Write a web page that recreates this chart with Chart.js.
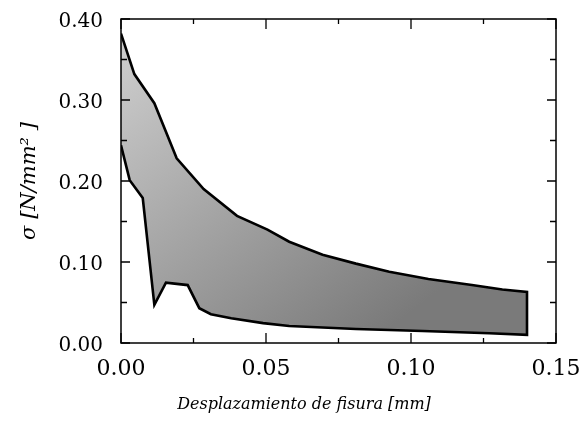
<!DOCTYPE html>
<html>
<head>
<meta charset="utf-8">
<script src="https://cdn.jsdelivr.net/npm/chart.js@4"></script>
<style>
  html, body { margin: 0; padding: 0; background: #fff; }
  canvas { display: block; }
</style>
</head>
<body>
<canvas id="c" width="581" height="421"></canvas>
<script>
// Upper boundary of the band (x in mm, sigma in N/mm^2)
const upperX = [0, 0.0046, 0.0115, 0.0192, 0.0285, 0.040, 0.0505, 0.058, 0.0695, 0.081, 0.0925, 0.106, 0.121, 0.1315, 0.140];
const upperY = [0.382, 0.332, 0.296, 0.228, 0.190, 0.157, 0.140, 0.125, 0.109, 0.098, 0.088, 0.079, 0.0715, 0.066, 0.063];
// Lower boundary of the band
const lowerX = [0, 0.003, 0.0075, 0.0115, 0.0155, 0.023, 0.027, 0.031, 0.038, 0.049, 0.058, 0.081, 0.104, 0.127, 0.140];
const lowerY = [0.244, 0.201, 0.179, 0.047, 0.0745, 0.0715, 0.043, 0.0355, 0.0305, 0.0245, 0.021, 0.0173, 0.0148, 0.012, 0.010];
// Axis ticks
const xTicks = [0, 0.05, 0.10, 0.15];
const yTicks = [0, 0.10, 0.20, 0.30, 0.40];
const xMinorStep = 0.025;
const yMinorStep = 0.05;
const xTitle = 'Desplazamiento de fisura [mm]';
const yTitle = 'σ [N/mm² ]';

// closed outline: upper left->right, then lower right->left
const band = [];
upperX.forEach((x, i) => band.push({ x, y: upperY[i] }));
for (let i = lowerX.length - 1; i >= 0; i--) band.push({ x: lowerX[i], y: lowerY[i] });

const frameTicks = {
  id: 'frameTicks',
  afterDraw(chart) {
    const { ctx, chartArea: a, scales: { x, y } } = chart;
    ctx.save();
    ctx.strokeStyle = '#000';
    ctx.lineWidth = 1.5;
    ctx.strokeRect(a.left, a.top, a.right - a.left, a.bottom - a.top);
    ctx.lineWidth = 1.3;
    ctx.beginPath();
    const xMax = xTicks[xTicks.length - 1];
    for (let v = 0, i = 0; v <= xMax + 1e-9; i++, v = i * xMinorStep) {
      const px = x.getPixelForValue(v);
      const len = (i % 2 === 0) ? 10 : 5;
      ctx.moveTo(px, a.bottom); ctx.lineTo(px, a.bottom - len);
      ctx.moveTo(px, a.top); ctx.lineTo(px, a.top + len);
    }
    const yMax = yTicks[yTicks.length - 1];
    for (let v = 0, i = 0; v <= yMax + 1e-9; i++, v = i * yMinorStep) {
      const py = y.getPixelForValue(v);
      const len = (i % 2 === 0) ? 9 : 6;
      ctx.moveTo(a.left, py); ctx.lineTo(a.left + len, py);
      ctx.moveTo(a.right, py); ctx.lineTo(a.right - len, py);
    }
    ctx.stroke();
    // x axis title
    ctx.fillStyle = '#000';
    ctx.font = 'italic 16px "DejaVu Serif"';
    ctx.textAlign = 'center';
    ctx.textBaseline = 'middle';
    ctx.fillText(xTitle, a.left + 183, a.bottom + 62);
    ctx.restore();
  }
};

new Chart(document.getElementById('c'), {
  type: 'line',
  data: {
    datasets: [{
      data: band,
      fill: 'shape',
      borderColor: '#000',
      borderWidth: 2.6,
      tension: 0,
      pointRadius: 0,
      backgroundColor: (c) => {
        const ca = c.chart.chartArea;
        if (!ca) return '#aaaaaa';
        const g = c.chart.ctx.createLinearGradient(ca.left, ca.top, ca.left + 250, ca.bottom);
        g.addColorStop(0, '#d2d2d2');
        g.addColorStop(1, '#7a7a7a');
        return g;
      }
    }]
  },
  options: {
    responsive: false,
    animation: false,
    devicePixelRatio: 1,
    layout: { padding: { top: 19, right: 25, bottom: 0, left: 0 } },
    plugins: { legend: { display: false }, tooltip: { enabled: false } },
    scales: {
      x: {
        type: 'linear',
        min: xTicks[0],
        max: xTicks[xTicks.length - 1],
        afterBuildTicks: (s) => { s.ticks = xTicks.map(v => ({ value: v })); },
        ticks: {
          callback: (v) => Number(v).toFixed(2),
          font: { family: 'DejaVu Serif', size: 22 },
          color: '#000',
          padding: 13,
          maxRotation: 0,
          autoSkip: false
        },
        grid: { display: false, drawTicks: false, tickLength: 0 },
        border: { display: false },
        afterFit: (s) => { s.height = 78; s.paddingLeft = 0; s.paddingRight = 0; }
      },
      y: {
        type: 'linear',
        min: yTicks[0],
        max: yTicks[yTicks.length - 1],
        afterBuildTicks: (s) => { s.ticks = yTicks.map(v => ({ value: v })); },
        ticks: {
          callback: (v) => Number(v).toFixed(2),
          font: { family: 'DejaVu Serif', size: 20 },
          color: '#000',
          padding: 18,
          labelOffset: 3
        },
        grid: { display: false, drawTicks: false, tickLength: 0 },
        border: { display: false },
        title: {
          display: true,
          text: yTitle,
          font: { family: 'DejaVu Serif', style: 'italic', size: 21 },
          color: '#000',
          padding: { top: 17, bottom: 0 }
        },
        afterFit: (s) => { s.width = 121; s.paddingTop = 0; s.paddingBottom = 0; }
      }
    }
  },
  plugins: [frameTicks]
});
</script>
</body>
</html>
